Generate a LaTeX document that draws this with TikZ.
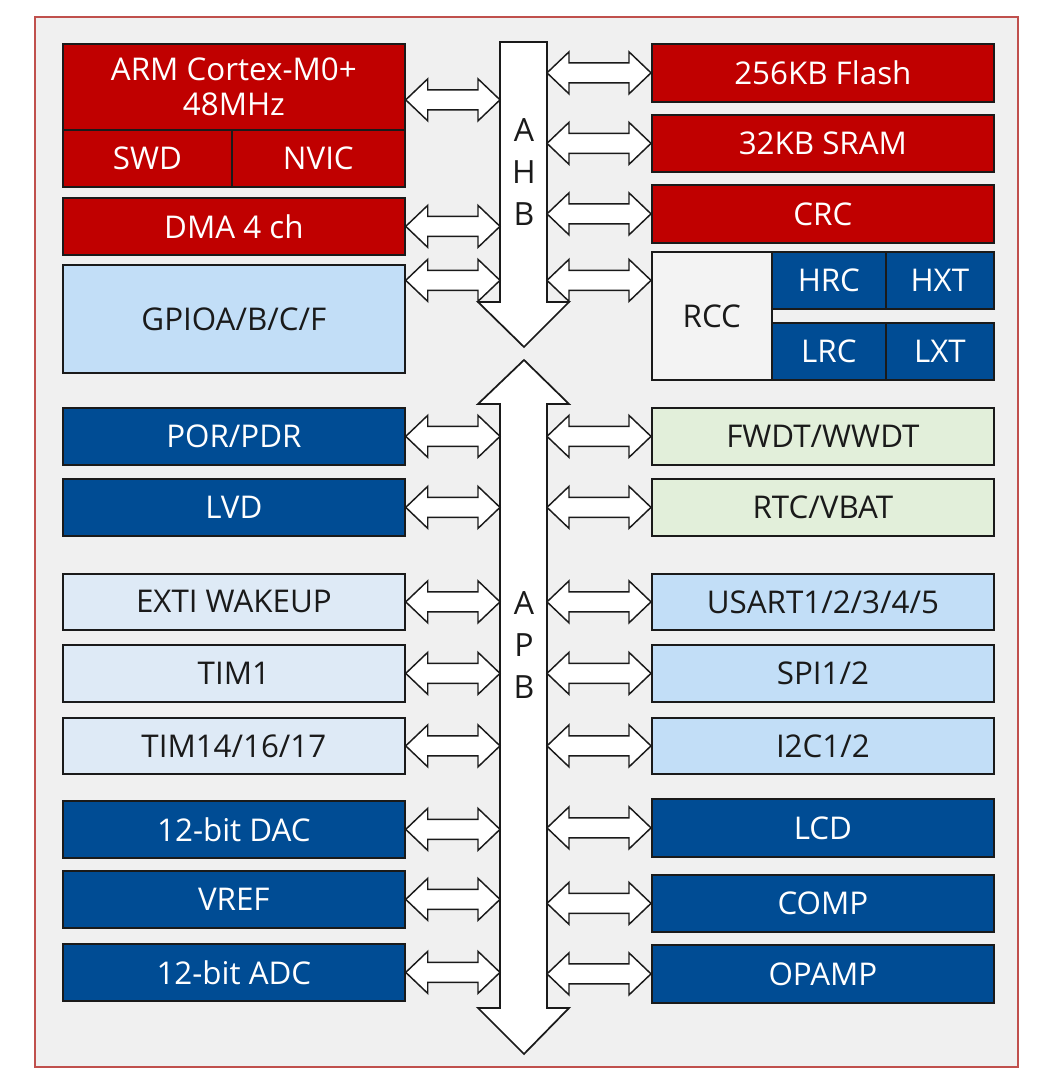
\documentclass[tikz,border=0pt]{standalone}
\usepackage{fontspec}
\setmainfont{Open Sans}
\usepackage{tikz}
\usetikzlibrary{calc}
\definecolor{corered}{HTML}{C00000}
\definecolor{perblue}{HTML}{004C94}
\definecolor{ioblue}{HTML}{C2DEF7}
\definecolor{paleblue}{HTML}{DEEAF6}
\definecolor{palegreen}{HTML}{E2EFDA}
\definecolor{chipgray}{HTML}{F0F0F0}
\definecolor{rccgray}{HTML}{F3F3F3}
\definecolor{framered}{HTML}{C0504D}
\definecolor{boxedge}{HTML}{1A1A1A}

% hollow two-way arrow between two x positions, at the height of #3
\newcommand{\biarrow}[3]{%
  \draw[portarrow] let \p1=(#1), \p2=(#2), \p3=(#3) in
    (\x1,\y3) -- (\x1+16.5pt,\y3+15.75pt) -- (\x1+16.5pt,\y3+7.5pt)
    -- (\x2-16.5pt,\y3+7.5pt) -- (\x2-16.5pt,\y3+15.75pt) -- (\x2,\y3)
    -- (\x2-16.5pt,\y3-15.75pt) -- (\x2-16.5pt,\y3-7.5pt)
    -- (\x1+16.5pt,\y3-7.5pt) -- (\x1+16.5pt,\y3-15.75pt) -- cycle;}

\begin{document}
\begin{tikzpicture}[
 x=0.75pt, y=-0.75pt,
 font=\fontsize{23.5}{26.5}\selectfont,
 blk/.style={draw=boxedge, line width=1.3pt, anchor=north west, inner sep=0pt, align=center},
 sz/.style 2 args={minimum width=#1*0.75pt, minimum height=#2*0.75pt},
 corebox/.style={blk, fill=corered, text=white},
 darkbox/.style={blk, fill=perblue, text=white},
 iobox/.style={blk, fill=ioblue, text=boxedge},
 palebox/.style={blk, fill=paleblue, text=boxedge},
 greenbox/.style={blk, fill=palegreen, text=boxedge},
 busarrow/.style={draw=boxedge, line width=1.3pt, fill=white, line join=miter},
 portarrow/.style={draw=boxedge, line width=1.1pt, fill=white, line join=miter},
 buslabel/.style={align=center, text=boxedge, font=\fontsize{24}{31.5}\selectfont}]
\useasboundingbox (0,0) rectangle (1051,1087);
\draw[framered, line width=1.5pt, fill=chipgray] (35,17) rectangle (1018,1067);

% buses
\draw[busarrow] (500,42) -- (547,42) -- (547,302) -- (569,302) -- (524,347)
  -- (478,302) -- (500,302) -- cycle;
\draw[busarrow] (524,360) -- (569,404) -- (547,404) -- (547,1008) -- (569,1008)
  -- (524,1054) -- (478,1008) -- (500,1008) -- (500,404) -- (478,404) -- cycle;
\node[buslabel](ahb) at (524,172){A\\H\\B};
\node[buslabel](apb) at (524,645){A\\P\\B};
\coordinate (ahbW) at (500,172);
\coordinate (ahbE) at (547,172);
\coordinate (apbW) at (500,645);
\coordinate (apbE) at (547,645);

% left column
\node[corebox, sz={342}{86}](cpu) at (62,43){ARM Cortex-M0+\\48MHz};
\node[corebox, sz={169}{57}](swd) at (62,129){SWD};
\node[corebox, sz={173}{57}](nvic) at (231,129){NVIC};
\node[corebox, sz={342}{57}](dma) at (62,197){DMA 4 ch};
\node[iobox, sz={342}{108}](gpio) at (62,264){GPIOA/B/C/F};
\node[darkbox, sz={342}{57}](por) at (62,407){POR/PDR};
\node[darkbox, sz={342}{57}](lvd) at (62,478){LVD};
\node[palebox, sz={342}{56}](exti) at (62,573){EXTI WAKEUP};
\node[palebox, sz={342}{57}](tima) at (62,644){TIM1};
\node[palebox, sz={342}{56}](timb) at (62,717){TIM14/16/17};
\node[darkbox, sz={342}{57}](dac) at (62,800){12-bit DAC};
\node[darkbox, sz={342}{57}](vref) at (62,870){VREF};
\node[darkbox, sz={342}{57}](adc) at (62,943){12-bit ADC};

% right column
\node[corebox, sz={342}{58}](flash) at (651,43){256KB Flash};
\node[corebox, sz={342}{57}](sram) at (651,114){32KB SRAM};
\node[corebox, sz={342}{58}](crc) at (651,184){CRC};
\node[blk, fill=rccgray, text=boxedge, sz={120}{128}](rcc) at (651,251){RCC};
\node[darkbox, sz={114}{57}](hrc) at (771,251){HRC};
\node[darkbox, sz={108}{57}](hxt) at (885,251){HXT};
\node[darkbox, sz={114}{57}](lrc) at (771,322){LRC};
\node[darkbox, sz={108}{57}](lxt) at (885,322){LXT};
\node[greenbox, sz={342}{57}](fwdt) at (651,407){FWDT/WWDT};
\node[greenbox, sz={342}{57}](rtc) at (651,478){RTC/VBAT};
\node[iobox, sz={342}{56}](usart) at (651,573){USART1/2/3/4/5};
\node[iobox, sz={342}{57}](spi) at (651,644){SPI1/2};
\node[iobox, sz={342}{56}](iic) at (651,717){I2C1/2};
\node[darkbox, sz={342}{58}](lcd) at (651,798){LCD};
\node[darkbox, sz={342}{57}](comp) at (651,874){COMP};
\node[darkbox, sz={342}{58}](opamp) at (651,944){OPAMP};

% AHB ports
\biarrow{cpu.east}{ahbW}{$(cpu.east)+(0,13)$}
\biarrow{dma.east}{ahbW}{dma.east}
\biarrow{gpio.east}{ahbW}{hrc.west}
\biarrow{ahbE}{flash.west}{flash.west}
\biarrow{ahbE}{sram.west}{sram.west}
\biarrow{ahbE}{crc.west}{crc.west}
\biarrow{ahbE}{rcc.west}{hrc.west}

% APB ports
\foreach \blkname in {por,lvd,exti,tima,timb,dac,vref,adc}
  \biarrow{\blkname.east}{apbW}{\blkname.east};
\foreach \blkname in {fwdt,rtc,usart,spi,iic,lcd,comp,opamp}
  \biarrow{apbE}{\blkname.west}{\blkname.west};

\end{tikzpicture}
\end{document}
